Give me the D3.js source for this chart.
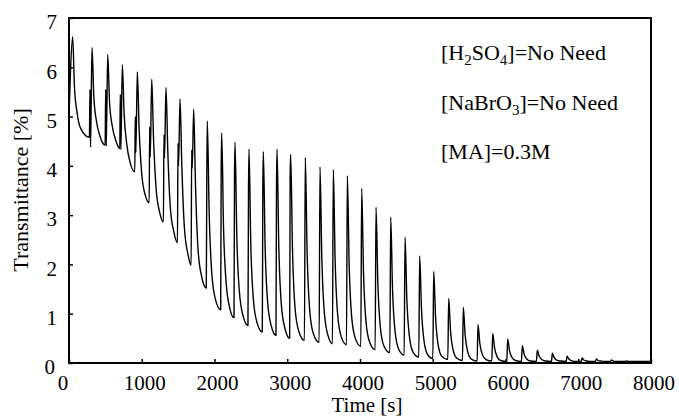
<!DOCTYPE html>
<html>
<head>
<meta charset="utf-8">
<script src="https://cdn.jsdelivr.net/npm/d3@7"></script>
<style>
  body { margin: 0; background: #fff; }
  text { font-family: "Liberation Serif", "Times New Roman", serif; fill: #000; }
</style>
</head>
<body>
<svg id="chart"></svg>
<script>
// start of the record, before the first spike
const startTime = [0, 20];
const startValue = [5.0, 5.9];

// one entry per oscillation
const peakTime = [50, 316, 532, 733, 939, 1137, 1333, 1526, 1714, 1901,
  2099, 2282, 2474, 2671, 2859, 3047, 3248, 3450, 3633, 3826,
  4023, 4220, 4422, 4619, 4820, 5013, 5219, 5420, 5622, 5824,
  6030, 6231, 6437, 6644, 6846, 7052, 7248, 7455, 7657, 7863];
const peakValue = [6.62, 6.40, 6.26, 6.06, 5.91, 5.76, 5.59, 5.36, 5.15, 4.91,
  4.67, 4.48, 4.34, 4.29, 4.34, 4.23, 4.17, 3.98, 3.92, 3.80,
  3.54, 3.16, 2.96, 2.55, 2.17, 1.86, 1.31, 1.13, 0.78, 0.60,
  0.49, 0.35, 0.26, 0.20, 0.14, 0.10, 0.08, 0.06, 0.04, 0.03];
// value ~25 s, ~60 s and ~110 s after the peak
const decay25 = [5.60, 5.41, 5.30, 5.05, 4.75, 4.55, 4.30, 4.00, 3.60, 3.10,
  2.75, 2.55, 2.40, 2.35, 2.35, 2.30, 2.25, 2.15, 2.10, 2.00,
  1.85, 1.65, 1.50, 1.30, 1.10, 0.95, 0.66, 0.57, 0.40, 0.31,
  0.25, 0.18, 0.14, 0.11, 0.08, 0.06, 0.05, 0.04, 0.035, 0.03];
const decay60 = [5.09, 4.92, 4.83, 4.45, 3.85, 3.55, 3.15, 2.75, 2.30, 1.85,
  1.65, 1.45, 1.30, 1.22, 1.18, 1.12, 1.08, 1.02, 0.98, 0.93,
  0.83, 0.72, 0.64, 0.54, 0.45, 0.38, 0.27, 0.23, 0.17, 0.13,
  0.11, 0.08, 0.07, 0.06, 0.05, 0.04, 0.04, 0.03, 0.03, 0.03];
const decay110 = [4.76, 4.60, 4.52, 4.05, 3.40, 3.05, 2.65, 2.20, 1.75, 1.30,
  1.12, 0.96, 0.82, 0.75, 0.70, 0.65, 0.60, 0.56, 0.53, 0.50,
  0.42, 0.34, 0.28, 0.22, 0.17, 0.14, 0.10, 0.08, 0.07, 0.05,
  0.05, 0.04, 0.04, 0.04, 0.03, 0.03, 0.03, 0.03, 0.03, 0.03];
// lowest value reached before the next spike
const troughValue = [4.58, 4.42, 4.35, 3.88, 3.25, 2.86, 2.44, 1.98, 1.52, 1.08,
  0.92, 0.76, 0.63, 0.56, 0.50, 0.46, 0.42, 0.39, 0.37, 0.34,
  0.27, 0.21, 0.16, 0.12, 0.09, 0.07, 0.05, 0.04, 0.04, 0.03,
  0.03, 0.03, 0.03, 0.03, 0.03, 0.03, 0.03, 0.03, 0.03, 0.03];
// small pre-spike on the rising edge (and the dip after it)
const preValue = [null, 5.55, 5.55, 5.45, 5.00, 4.79, 4.63, 4.46, 4.32, 3.72,
  3.92, 3.75, 3.41, 3.45, 3.51, 3.81, null, null, null, null,
  null, null, null, null, null, null, null, null, null, null,
  null, null, null, null, null, null, null, null, null, null];
const dipValue = [null, 4.38, 4.40, 4.33, 4.27, 4.18, 4.16, 4.00, 3.95, null,
  null, null, null, null, null, null, null, null, null, null,
  null, null, null, null, null, null, null, null, null, null,
  null, null, null, null, null, null, null, null, null, null];
const endTime = 7990;

const xTicks = [0, 1000, 2000, 3000, 4000, 5000, 6000, 7000, 8000];
const yTicks = [0, 1, 2, 3, 4, 5, 6, 7];
const notes = [
  [{ t: "[H" }, { t: "2", sub: true }, { t: "SO" }, { t: "4", sub: true }, { t: "]=No Need" }],
  [{ t: "[NaBrO" }, { t: "3", sub: true }, { t: "]=No Need" }],
  [{ t: "[MA]=0.3M" }]
];

// build the trace from the per-cycle readings
const points = startTime.map((t, i) => [t, startValue[i]]);
peakTime.forEach((T, i) => {
  if (i > 0) {
    const prevEnd = troughValue[i - 1];
    if (preValue[i] !== null && dipValue[i] !== null) {
      points.push([T - 35, prevEnd], [T - 28, preValue[i]], [T - 20, dipValue[i]]);
    } else if (preValue[i] !== null) {
      points.push([T - 14, prevEnd], [T - 7, preValue[i]]);
    } else {
      points.push([T - 12, prevEnd]);
    }
  }
  points.push([T, peakValue[i]], [T + 25, decay25[i]], [T + 60, decay60[i]], [T + 110, decay110[i]]);
});
points.push([endTime, troughValue[troughValue.length - 1]]);

const margin = { top: 18, right: 28, bottom: 56, left: 69 };
const W = 679, H = 419;
const width = W - margin.left - margin.right;
const height = H - margin.top - margin.bottom;

const svg = d3.select("#chart").attr("width", W).attr("height", H);
const g = svg.append("g").attr("transform", `translate(${margin.left},${margin.top})`);

const x = d3.scaleLinear().domain([0, 8000]).range([0, width]);
const y = d3.scaleLinear().domain([0, 7]).range([height, 0]);

// data line
const line = d3.line()
  .x((d) => x(d[0]))
  .y((d) => y(d[1]))
  .curve(d3.curveMonotoneX);

g.append("path")
  .datum(points)
  .attr("fill", "none")
  .attr("stroke", "#000")
  .attr("stroke-width", 1.4)
  .attr("stroke-linejoin", "round")
  .attr("d", line);

// axes with inward ticks
const xAxis = d3.axisBottom(x).tickValues(xTicks).tickSize(-4).tickFormat("");
const yAxis = d3.axisLeft(y).tickValues(yTicks).tickSize(-4).tickFormat("");

g.append("g").attr("transform", `translate(0,${height})`).call(xAxis)
  .call((s) => s.select(".domain").remove())
  .call((s) => s.selectAll("line").attr("stroke", "#000").attr("stroke-width", 1.5));
g.append("g").call(yAxis)
  .call((s) => s.select(".domain").remove())
  .call((s) => s.selectAll("line").attr("stroke", "#000").attr("stroke-width", 1.5));

// frame
g.append("rect")
  .attr("width", width)
  .attr("height", height)
  .attr("fill", "none")
  .attr("stroke", "#000")
  .attr("stroke-width", 2);

// tick labels
g.selectAll(".xlab")
  .data(xTicks)
  .join("text")
  .attr("class", "xlab")
  .attr("x", (d) => x(d) + (d === 0 ? -6 : 3))
  .attr("y", height + 27)
  .attr("text-anchor", "middle")
  .attr("font-size", 21)
  .text((d) => d);

g.selectAll(".ylab")
  .data(yTicks)
  .join("text")
  .attr("class", "ylab")
  .attr("x", (d) => (d === 0 ? -14 : -12))
  .attr("y", (d) => y(d) + 4)
  .attr("dy", "0.35em")
  .attr("text-anchor", "end")
  .attr("font-size", 21)
  .text((d) => d);

// axis titles
svg.append("text")
  .attr("x", 367)
  .attr("y", 412)
  .attr("text-anchor", "middle")
  .attr("font-size", 21)
  .text("Time [s]");

svg.append("text")
  .attr("transform", "translate(28,190) rotate(-90)")
  .attr("text-anchor", "middle")
  .attr("font-size", 22)
  .text("Transmittance [%]");

// condition notes, subscripts shifted down and back
notes.forEach((parts, i) => {
  const t = svg.append("text")
    .attr("x", 441)
    .attr("y", 60 + i * 49.5)
    .attr("font-size", 22);
  let shift = 0;
  parts.forEach((p) => {
    const span = t.append("tspan").text(p.t);
    if (p.sub) {
      span.attr("font-size", 15).attr("dy", 5 - shift);
      shift = 5;
    } else {
      span.attr("dy", -shift);
      shift = 0;
    }
  });
});
</script>
</body>
</html>
